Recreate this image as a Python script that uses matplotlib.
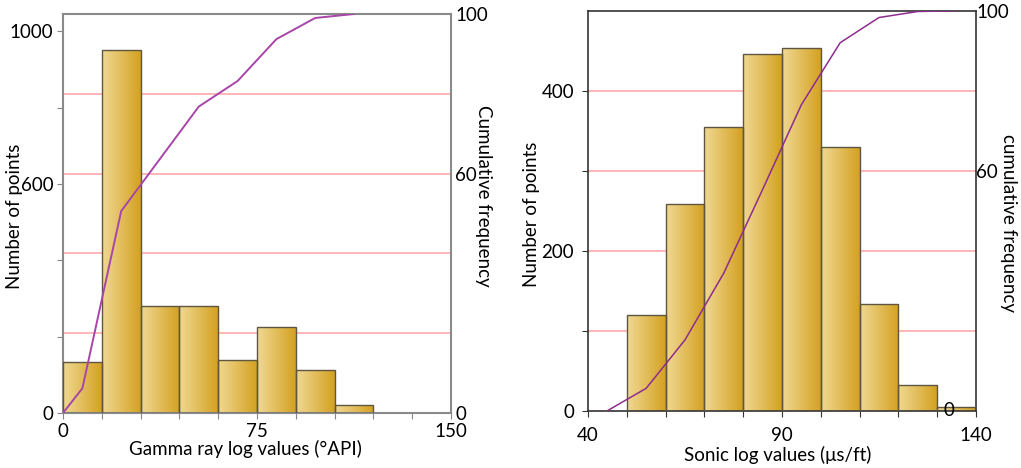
import numpy as np
import matplotlib
matplotlib.use("Agg")
import matplotlib.pyplot as plt
from matplotlib.colors import LinearSegmentedColormap

plt.rcParams['font.family'] = ['Lato', 'DejaVu Sans']

# gamma ray histogram (bins of 15 API)
gr_edges = [0, 15, 30, 45, 60, 75, 90, 105, 120]
gr_counts = [133, 950, 280, 280, 138, 224, 113, 21]
gr_cum_x = [0, 7.5, 22.5, 37.5, 52.5, 67.5, 82.5, 97.5, 112.5]
gr_cum_y = [0, 6.2, 50.6, 63.7, 76.8, 83.2, 93.7, 99.0, 100]

# sonic histogram (bins of 10 us/ft)
dt_edges = [50, 60, 70, 80, 90, 100, 110, 120, 130, 140]
dt_counts = [120, 259, 355, 446, 454, 330, 134, 32, 5]
dt_cum_x = [45, 55, 65, 75, 85, 95, 105, 115, 125, 135]
dt_cum_y = [0, 5.6, 17.7, 34.4, 55.3, 76.5, 92.0, 98.3, 99.8, 100]

gold = LinearSegmentedColormap.from_list("gold", ["#f0d894", "#d4a221"])
grad = np.linspace(0, 1, 64).reshape(1, -1)


def gradient_bars(ax, edges, counts):
    for i, c in enumerate(counts):
        x0, x1 = edges[i], edges[i + 1]
        rect = plt.Rectangle((x0, 0), x1 - x0, c, facecolor="none",
                             edgecolor="#5e5640", linewidth=1.0, zorder=3)
        ax.add_patch(rect)
        im = ax.imshow(grad, cmap=gold, aspect="auto", extent=[x0, x1, 0, c],
                       zorder=2, interpolation="bicubic")
        im.set_clip_path(rect)


def pink_grid(ax):
    for f in [0.2, 0.4, 0.6, 0.8]:
        ax.plot([0, 1], [f, f], transform=ax.transAxes, color="#ffaaaa",
                lw=1.2, zorder=1)


fig = plt.figure(figsize=(10.21, 4.68), dpi=100)
fs = 13.5

# ---- left: gamma ray
ax = fig.add_axes([0.0617, 0.1175, 0.380, 0.8526])
pink_grid(ax)
gradient_bars(ax, gr_edges, gr_counts)
ax.set_xlim(0, 150)
ax.set_ylim(0, 1045)
ax.set_xticks(np.arange(0, 151, 15))
ax.set_xticklabels(["0", "", "", "", "", "75", "", "", "", "", "150"])
ax.set_yticks([0, 200, 400, 600, 800, 1000])
ax.set_yticklabels(["0", "", "", "600", "", "1000"])
ax.tick_params(labelsize=fs, length=4, color="#888888", pad=3)
for s in ax.spines.values():
    s.set_color("#8a8a8a")
    s.set_linewidth(1.5)
ax.set_xlabel("Gamma ray log values (°API)", fontsize=fs, va="center")
ax.xaxis.set_label_coords(0.469, -0.09)
ax.set_ylabel("Number of points", fontsize=fs, va="center")
ax.yaxis.set_label_coords(-0.124, 0.494)

ax2 = ax.twinx()
ax2.plot(gr_cum_x, gr_cum_y, color="#a845a8", lw=1.4, zorder=5)
ax2.set_ylim(0, 100)
ax2.set_yticks([0, 60, 100])
ax2.tick_params(labelsize=fs, length=0, pad=3)
for s in ax2.spines.values():
    s.set_visible(False)
ax2.set_ylabel("Cumulative frequency", fontsize=fs, rotation=270, va="center")
ax2.yaxis.set_label_coords(1.084, 0.544)

# ---- right: sonic
bx = fig.add_axes([0.5759, 0.1224, 0.380, 0.8547])
pink_grid(bx)
gradient_bars(bx, dt_edges, dt_counts)
bx.set_xlim(40, 140)
bx.set_ylim(0, 500)
bx.set_xticks(np.arange(40, 141, 10))
bx.set_xticklabels(["40", "", "", "", "", "90", "", "", "", "", "140"])
bx.set_yticks([0, 100, 200, 300, 400])
bx.set_yticklabels(["0", "", "200", "", "400"])
bx.tick_params(labelsize=fs, length=4, color="#333333", pad=6)
bx.tick_params(axis="x", pad=8)
for s in bx.spines.values():
    s.set_color("#333333")
    s.set_linewidth(1.2)
bx.set_xlabel("Sonic log values (\u03bcs/ft)", fontsize=fs, va="center")
bx.xaxis.set_label_coords(0.49, -0.111)
bx.set_ylabel("Number of points", fontsize=fs, va="center")
bx.yaxis.set_label_coords(-0.145, 0.49)

bx2 = bx.twinx()
bx2.plot(dt_cum_x, dt_cum_y, color="#8e2c8e", lw=1.1, zorder=5)
bx2.set_ylim(0, 100)
bx2.set_yticks([60, 100])
bx2.tick_params(labelsize=fs, length=0, pad=0)
for s in bx2.spines.values():
    s.set_visible(False)
bx2.text(133, 0, "0", fontsize=fs, ha="center", va="center")
bx2.set_ylabel("cumulative frequency", fontsize=fs, rotation=270, va="center")
bx2.yaxis.set_label_coords(1.085, 0.47)

fig.savefig("out.png", dpi=100)
